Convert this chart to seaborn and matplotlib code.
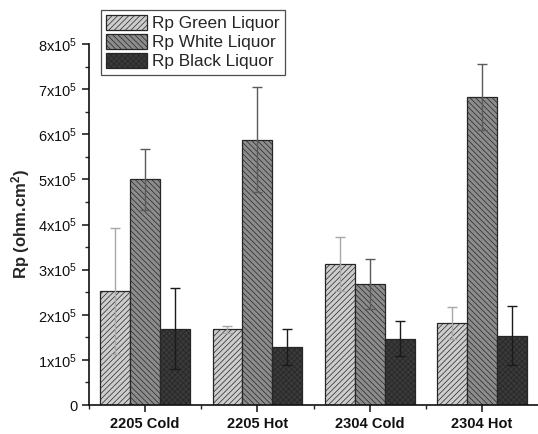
"""Rp of alloys in green / white / black liquor, grouped bars with hatching."""

import numpy as np
import pandas as pd
import matplotlib
matplotlib.use("Agg")
import matplotlib.pyplot as plt
from matplotlib.ticker import MultipleLocator, FuncFormatter
import seaborn as sns

CATEGORIES = ["2205 Cold", "2205 Hot", "2304 Cold", "2304 Hot"]
SERIES = ["Rp Green Liquor", "Rp White Liquor", "Rp Black Liquor"]

# values in ohm.cm^2
GREEN = [2.53e5, 1.68e5, 3.13e5, 1.82e5]
WHITE = [5.00e5, 5.88e5, 2.68e5, 6.82e5]
BLACK = [1.69e5, 1.29e5, 1.47e5, 1.54e5]

GREEN_ERR = [1.39e5, 0.08e5, 0.60e5, 0.35e5]
WHITE_ERR = [0.67e5, 1.17e5, 0.55e5, 0.73e5]
BLACK_ERR = [0.90e5, 0.40e5, 0.39e5, 0.66e5]

FACES = ["#cdcdcd", "#8c8c8c", "#3a3a3a"]
HATCHES = ["//////", "\\\\\\\\\\\\", "xxxxxx"]
ERR_COLORS = ["#a8a8a8", "#5a5a5a", "#1a1a1a"]

sns.set_style("ticks")
plt.rcParams["font.family"] = ["Liberation Sans", "DejaVu Sans"]
plt.rcParams["hatch.linewidth"] = 0.5
plt.rcParams["mathtext.fontset"] = "custom"
plt.rcParams["mathtext.rm"] = "Liberation Sans"
plt.rcParams["mathtext.it"] = "Liberation Sans"
plt.rcParams["mathtext.bf"] = "Liberation Sans:bold"

df = pd.DataFrame({
    "cat": CATEGORIES * 3,
    "series": [s for s in SERIES for _ in CATEGORIES],
    "rp": GREEN + WHITE + BLACK,
})
errs = [GREEN_ERR, WHITE_ERR, BLACK_ERR]

fig = plt.figure(figsize=(5.38, 4.34), dpi=100)
ax = fig.add_axes([0.1654, 0.0668, 0.835, 0.8318])

sns.barplot(data=df, x="cat", y="rp", hue="series", order=CATEGORIES,
            hue_order=SERIES, palette=FACES, errorbar=None, width=0.8,
            saturation=1, ax=ax)


def style_patch(p, face, hatch):
    p.set_facecolor(face)
    p.set_hatch(hatch)
    p.set_edgecolor("#262626")
    p.set_linewidth(0.9)


for cont, hatch, face, err, ecol in zip(ax.containers, HATCHES, FACES, errs, ERR_COLORS):
    xs = []
    for bar in cont:
        style_patch(bar, face, hatch)
        xs.append(bar.get_x() + bar.get_width() / 2)
    ax.errorbar(xs, [b.get_height() for b in cont], yerr=err, fmt="none",
                ecolor=ecol, elinewidth=1.0, capsize=3.5, capthick=1.0, zorder=5)

ax.set_xlim(-0.5, 3.5)
ax.set_ylim(0, 8e5)
ax.yaxis.set_major_locator(MultipleLocator(1e5))
ax.yaxis.set_minor_locator(MultipleLocator(0.5e5))
ax.set_xticks([-0.5, 0.5, 1.5, 2.5], minor=True)


def fmt(v, pos):
    n = int(round(v / 1e5))
    return "0" if n == 0 else f"{n}x10$^{{5}}$"


ax.yaxis.set_major_formatter(FuncFormatter(fmt))
ax.tick_params(axis="both", which="major", direction="out", length=5, width=1.1,
               labelsize=10.5, colors="#111111")
ax.tick_params(axis="both", which="minor", direction="out", length=3, width=1.0)
for lab in ax.get_xticklabels():
    lab.set_fontweight("bold")
ax.set_xlabel("")
ax.set_ylabel("Rp (ohm.cm$^{\\mathbf{2}}$)", fontsize=12, fontweight="bold")

sns.despine(ax=ax)
for s in ["left", "bottom"]:
    ax.spines[s].set_linewidth(1.2)
    ax.spines[s].set_color("#111111")

handles, labels = ax.get_legend_handles_labels()
leg = ax.legend(handles, labels, loc="upper left", bbox_to_anchor=(0.187, 0.977),
                bbox_transform=fig.transFigure, borderaxespad=0, fontsize=12.4,
                frameon=True, fancybox=False, edgecolor="#222222",
                handlelength=2.4, handleheight=0.95, labelspacing=0.15,
                handletextpad=0.3, borderpad=0.3)
leg.get_frame().set_linewidth(0.9)
for h, face, hatch in zip(leg.get_patches(), FACES, HATCHES):
    style_patch(h, face, hatch)

fig.savefig("out.png", dpi=100)
